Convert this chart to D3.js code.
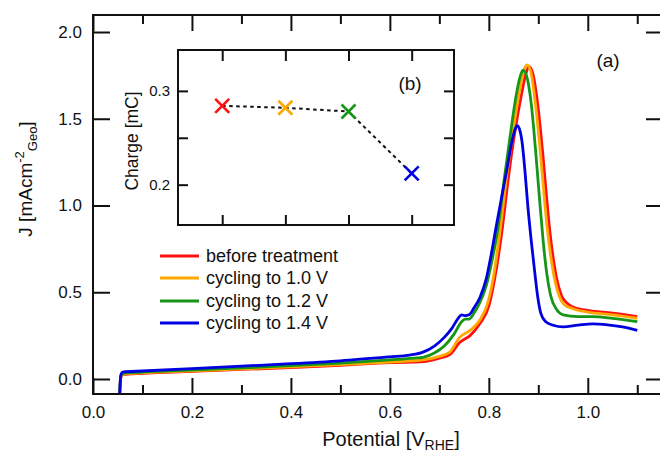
<!DOCTYPE html>
<html>
<head>
<meta charset="utf-8">
<script src="https://cdn.jsdelivr.net/npm/d3@7"></script>
<style>
  html, body { margin: 0; padding: 0; background: #fff; }
  svg { display: block; font-family: "Liberation Sans", Arial, sans-serif; }
</style>
</head>
<body>
<svg id="chart" width="660" height="455"></svg>
<script>
// ---------- data ----------
const seriesNames = ["before treatment", "cycling to 1.0 V", "cycling to 1.2 V", "cycling to 1.4 V"];
const seriesColors = ["#ff1010", "#ffa800", "#169616", "#0000e0"];

const potRed = [0.054,0.056,0.060,0.10,0.20,0.30,0.40,0.50,0.60,0.667,0.70,0.721,0.741,0.762,0.782,0.800,0.812,0.826,0.840,0.853,0.866,0.875,0.881,0.888,0.899,0.909,0.917,0.923,0.930,0.937,0.947,0.957,0.97,1.00,1.05,1.10];
const jRed   = [-0.085,0.005,0.025,0.032,0.044,0.055,0.066,0.079,0.094,0.100,0.120,0.140,0.210,0.250,0.320,0.420,0.580,0.840,1.170,1.430,1.640,1.760,1.800,1.770,1.580,1.300,1.040,0.860,0.700,0.580,0.480,0.440,0.415,0.395,0.380,0.360];

const potOrange = [0.054,0.056,0.060,0.10,0.20,0.30,0.40,0.50,0.60,0.667,0.70,0.721,0.741,0.762,0.782,0.798,0.810,0.823,0.837,0.850,0.862,0.871,0.877,0.884,0.894,0.904,0.912,0.918,0.925,0.932,0.942,0.952,0.97,1.00,1.05,1.10];
const jOrange   = [-0.085,0.010,0.027,0.035,0.047,0.058,0.070,0.083,0.098,0.110,0.130,0.155,0.240,0.280,0.340,0.440,0.600,0.860,1.190,1.450,1.660,1.780,1.810,1.780,1.590,1.310,1.050,0.870,0.710,0.590,0.480,0.430,0.405,0.385,0.370,0.350];

const potGreen = [0.054,0.056,0.060,0.10,0.20,0.30,0.40,0.50,0.60,0.650,0.667,0.690,0.710,0.730,0.745,0.752,0.760,0.770,0.780,0.795,0.807,0.818,0.832,0.845,0.855,0.863,0.869,0.876,0.886,0.895,0.903,0.910,0.917,0.925,0.937,0.950,0.98,1.01,1.05,1.10];
const jGreen   = [-0.085,0.015,0.032,0.040,0.052,0.064,0.077,0.092,0.110,0.120,0.125,0.150,0.190,0.260,0.330,0.345,0.345,0.380,0.430,0.540,0.690,0.860,1.170,1.440,1.630,1.740,1.780,1.750,1.580,1.300,1.020,0.790,0.610,0.480,0.400,0.370,0.360,0.360,0.350,0.330];

const potBlue = [0.054,0.056,0.060,0.10,0.20,0.30,0.40,0.50,0.60,0.640,0.667,0.690,0.710,0.725,0.738,0.745,0.752,0.760,0.770,0.782,0.795,0.805,0.815,0.826,0.836,0.846,0.852,0.857,0.862,0.867,0.873,0.879,0.886,0.893,0.899,0.905,0.915,0.930,0.950,0.98,1.01,1.04,1.07,1.10];
const jBlue   = [-0.085,0.020,0.040,0.046,0.060,0.074,0.088,0.105,0.128,0.138,0.155,0.190,0.240,0.290,0.350,0.370,0.365,0.370,0.410,0.470,0.580,0.720,0.880,1.050,1.200,1.360,1.430,1.460,1.440,1.370,1.200,0.990,0.790,0.610,0.470,0.380,0.330,0.310,0.300,0.310,0.318,0.312,0.300,0.280];

const xTicksMajor = [0.0, 0.2, 0.4, 0.6, 0.8, 1.0];
const xTicksMinor = [0.1, 0.3, 0.5, 0.7, 0.9, 1.1];
const yTicks = [0.0, 0.5, 1.0, 1.5, 2.0];

// inset (b)
const insetCats = [1, 2, 3, 4];
const insetCharge = [0.284, 0.282, 0.278, 0.212];
const insetYTicks = [0.2, 0.25, 0.3];
const insetYLabels = [0.2, 0.3];

// ---------- drawing ----------
const svg = d3.select("#chart");
const L = 93, R = 662, T = 15, B = 394;
const x = d3.scaleLinear().domain([0, 1.15]).range([L, R]);
const y = d3.scaleLinear().domain([-0.0865, 2.098]).range([B, T]);
const ink = "#111";

svg.append("defs").append("clipPath").attr("id", "plotclip")
  .append("rect").attr("x", L).attr("y", T).attr("width", R - L).attr("height", B - T);

// curves
const series = [
  {pot: potRed, j: jRed},
  {pot: potOrange, j: jOrange},
  {pot: potGreen, j: jGreen},
  {pot: potBlue, j: jBlue}
];
const line = d3.line().x(d => x(d[0])).y(d => y(d[1])).curve(d3.curveMonotoneX);
const gCurves = svg.append("g").attr("clip-path", "url(#plotclip)");
series.forEach((s, i) => {
  const pts = s.pot.map((p, k) => [p, s.j[k]]);
  gCurves.append("path").datum(pts)
    .attr("d", line).attr("fill", "none")
    .attr("stroke", seriesColors[i]).attr("stroke-width", 2.8)
    .attr("stroke-linejoin", "round");
});

function styleAxis(g) {
  g.selectAll("path.domain").attr("stroke", ink).attr("stroke-width", 2);
  g.selectAll(".tick line").attr("stroke", ink).attr("stroke-width", 2);
  g.selectAll("text").attr("fill", ink).attr("font-size", 17)
    .attr("font-family", '"Liberation Sans", Arial, sans-serif');
}

// bottom axis
const gB = svg.append("g").attr("transform", `translate(0,${B})`)
  .call(d3.axisBottom(x).tickValues(xTicksMajor).tickSizeInner(-16).tickSizeOuter(0)
    .tickPadding(12).tickFormat(d3.format(".1f")));
styleAxis(gB);
gB.select("path.domain").attr("d", `M${L},0H${R}`);
const gBm = svg.append("g").attr("transform", `translate(0,${B})`)
  .call(d3.axisBottom(x).tickValues(xTicksMinor).tickSizeInner(-9).tickSizeOuter(0).tickFormat(""));
styleAxis(gBm); gBm.select("path.domain").remove();

// top axis
const gT = svg.append("g").attr("transform", `translate(0,${T})`)
  .call(d3.axisTop(x).tickValues(xTicksMajor).tickSizeInner(-16).tickSizeOuter(0).tickFormat(""));
styleAxis(gT);
gT.select("path.domain").attr("d", `M${L - 1},0H${R + 1}`);
const gTm = svg.append("g").attr("transform", `translate(0,${T})`)
  .call(d3.axisTop(x).tickValues(xTicksMinor).tickSizeInner(-9).tickSizeOuter(0).tickFormat(""));
styleAxis(gTm); gTm.select("path.domain").remove();

// left axis
const gL = svg.append("g").attr("transform", `translate(${L},0)`)
  .call(d3.axisLeft(y).tickValues(yTicks).tickSizeInner(-17).tickSizeOuter(0)
    .tickPadding(11).tickFormat(d3.format(".1f")));
styleAxis(gL);
gL.select("path.domain").attr("d", `M0,${T - 1}V${B + 1}`);

// right axis
const gR = svg.append("g").attr("transform", `translate(${R},0)`)
  .call(d3.axisRight(y).tickValues(yTicks).tickSizeInner(-16).tickSizeOuter(0).tickFormat(""));
styleAxis(gR);
gR.select("path.domain").attr("d", `M0,${T - 1}V${B + 1}`);

// axis titles
const xt = svg.append("text").attr("x", 391).attr("y", 446).attr("text-anchor", "middle")
  .attr("font-size", 20).attr("fill", ink);
xt.append("tspan").text("Potential [V");
xt.append("tspan").attr("font-size", 14).attr("dy", 4).text("RHE");
xt.append("tspan").attr("dy", -4).text("]");

const yt = svg.append("text").attr("transform", "translate(32,179) rotate(-90)")
  .attr("text-anchor", "middle").attr("font-size", 19).attr("fill", ink);
yt.append("tspan").text("J [mAcm");
yt.append("tspan").attr("font-size", 13).attr("dy", -8).text("-2");
yt.append("tspan").attr("font-size", 13).attr("dy", 13).text("Geo");
yt.append("tspan").attr("dy", -5).text("]");

// (a) label
svg.append("text").attr("x", 608).attr("y", 67).attr("text-anchor", "middle")
  .attr("font-size", 19).attr("fill", ink).text("(a)");

// legend
const legY = [256, 278, 301, 323];
seriesNames.forEach((name, i) => {
  svg.append("line").attr("x1", 160).attr("x2", 199).attr("y1", legY[i]).attr("y2", legY[i])
    .attr("stroke", seriesColors[i]).attr("stroke-width", 2.8);
  svg.append("text").attr("x", 206).attr("y", legY[i]).attr("dy", "0.35em")
    .attr("font-size", 18).attr("fill", ink).text(name);
});

// ---------- inset (b) ----------
const iL = 178, iR = 454, iT = 50, iB = 225;
const ix = d3.scaleLinear().domain([0.3, 4.67]).range([iL, iR]);
const iy = d3.scaleLinear().domain([0.157, 0.3436]).range([iB, iT]);
const gi = svg.append("g");
gi.append("rect").attr("x", iL).attr("y", iT).attr("width", iR - iL).attr("height", iB - iT)
  .attr("fill", "#fff");

const giB = gi.append("g").attr("transform", `translate(0,${iB})`)
  .call(d3.axisBottom(ix).tickValues(insetCats).tickSizeInner(-10).tickSizeOuter(0).tickFormat(""));
styleAxis(giB); giB.select("path.domain").remove();
const giT = gi.append("g").attr("transform", `translate(0,${iT})`)
  .call(d3.axisTop(ix).tickValues(insetCats).tickSizeInner(-11).tickSizeOuter(0).tickFormat(""));
styleAxis(giT); giT.select("path.domain").remove();
const giL = gi.append("g").attr("transform", `translate(${iL},0)`)
  .call(d3.axisLeft(iy).tickValues(insetYTicks).tickSizeInner(-10).tickSizeOuter(0)
    .tickPadding(8).tickFormat(d => insetYLabels.includes(d) ? d3.format(".1f")(d) : ""));
styleAxis(giL); giL.select("path.domain").remove();
giL.selectAll("text").attr("font-size", 15);
const giR = gi.append("g").attr("transform", `translate(${iR},0)`)
  .call(d3.axisRight(iy).tickValues(insetYTicks).tickSizeInner(-10).tickSizeOuter(0).tickFormat(""));
styleAxis(giR); giR.select("path.domain").remove();

gi.append("rect").attr("x", iL).attr("y", iT).attr("width", iR - iL).attr("height", iB - iT)
  .attr("fill", "none").attr("stroke", ink).attr("stroke-width", 2);

const ipts = insetCats.map((c, k) => [c, insetCharge[k]]);
gi.append("path").datum(ipts)
  .attr("d", d3.line().x(d => ix(d[0])).y(d => iy(d[1])))
  .attr("fill", "none").attr("stroke", ink).attr("stroke-width", 2)
  .attr("stroke-dasharray", "3.5,3.5");

const ms = 7;
ipts.forEach((d, k) => {
  const cx = ix(d[0]), cy = iy(d[1]);
  gi.append("path")
    .attr("d", `M${cx - ms},${cy - ms}L${cx + ms},${cy + ms}M${cx - ms},${cy + ms}L${cx + ms},${cy - ms}`)
    .attr("stroke", seriesColors[k]).attr("stroke-width", 2.6).attr("fill", "none");
});

gi.append("text").attr("transform", "translate(138,141) rotate(-90)")
  .attr("text-anchor", "middle").attr("font-size", 17.5).attr("fill", ink).text("Charge [mC]");
gi.append("text").attr("x", 410).attr("y", 90).attr("text-anchor", "middle")
  .attr("font-size", 19).attr("fill", ink).text("(b)");
</script>
</body>
</html>
